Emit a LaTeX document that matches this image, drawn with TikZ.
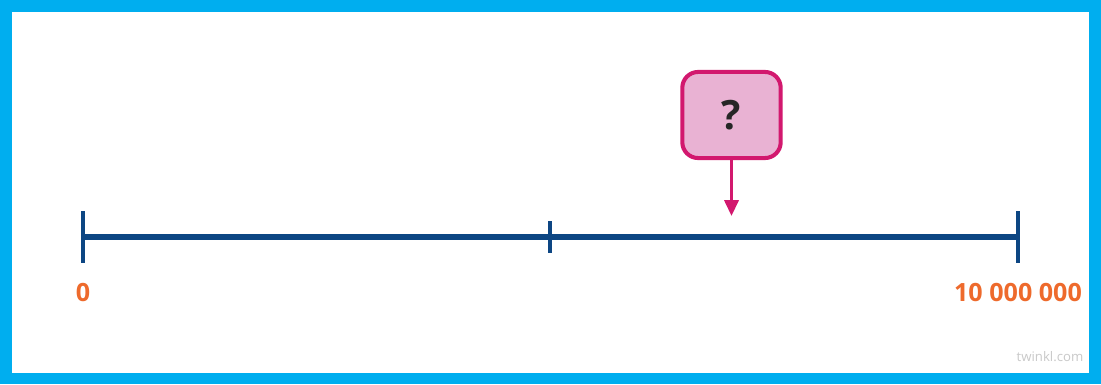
\documentclass[tikz,border=0pt]{standalone}
\usepackage{fontspec}
\setmainfont{Open Sans}
\usepackage{xcolor}
\definecolor{twBlue}{HTML}{00AEEF}
\definecolor{twNavy}{HTML}{0D4683}
\definecolor{twOrange}{HTML}{EE6A2C}
\definecolor{twPink}{HTML}{D2186E}
\definecolor{twPinkFill}{HTML}{E9B2D3}
\definecolor{twGrey}{HTML}{C9C9C9}
\usepackage{tikz}
\usetikzlibrary{arrows.meta}

\begin{document}
\begin{tikzpicture}[x=0.02cm, y=-0.02cm,
    numline/.style={twNavy, line width=2.9pt},
    tick/.style={twNavy, line width=2.2pt},
    endlabel/.style={twOrange, font=\fontsize{14.3}{17}\selectfont\bfseries},
    askbox/.style={draw=twPink, fill=twPinkFill, line width=2.3pt, rounded corners=9pt,
                   minimum width=56pt, minimum height=49pt, inner sep=0pt,
                   font=\fontsize{23}{26}\selectfont\bfseries, text=black!85}]
  \useasboundingbox (0,0) rectangle (1101,385);

  % ---------------- the frame ----------------
  \fill[white] (0,0) rectangle (1101,385);
  \draw[twBlue, line width=6.8pt] (6,6) rectangle (1095,378.5);

  % ---------------- the number line ----------------
  \coordinate (zero) at (83,237);
  \coordinate (half) at (550,237);
  \coordinate (full) at (1018,237);
  \draw[numline] (zero) -- (full);
  \draw[tick] (zero) ++(0,-26) -- ++(0,52);
  \draw[tick] (full) ++(0,-26) -- ++(0,52);
  \draw[tick] (half) ++(0,-16) -- ++(0,32);

  % ---------------- the ends ----------------
  \node[endlabel] (lo) at (83,293) {0};
  \node[endlabel] (hi) at (1018,293) {10 000 000};

  % ---------------- the unknown ----------------
  \node[askbox] (ask) at (731.5,115) {?};
  \coordinate (spot) at (731.5,216);
  \draw[twPink, line width=1.8pt, -{Triangle[width=8pt, length=9pt]}] (ask.south) -- (spot);

  % ---------------- corner mark ----------------
  \node[twGrey, font=\fontsize{7.5}{9}\selectfont] (mark) at (1050,357) {twinkl.com};
\end{tikzpicture}
\end{document}
